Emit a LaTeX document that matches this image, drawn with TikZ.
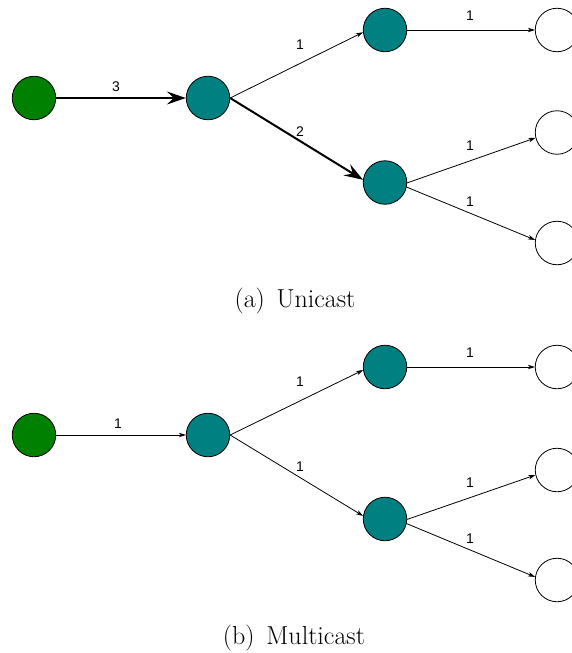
\documentclass[tikz,border=0pt]{standalone}
\usepackage{fontspec}
\newfontfamily\lblfont{Liberation Sans}
\usetikzlibrary{arrows.meta}
\definecolor{srcgreen}{RGB}{0,128,0}
\definecolor{midteal}{RGB}{0,128,128}
\begin{document}
\begin{tikzpicture}[x=1pt,y=-1pt,
  vtx/.style={circle,draw=black,line width=0.8pt,minimum size=43.5pt,inner sep=0pt},
  src/.style={vtx,fill=srcgreen},
  rel/.style={vtx,fill=midteal},
  dst/.style={vtx,fill=white},
  thinarr/.style={line width=0.8pt,-{Stealth[length=7pt,width=4.5pt,inset=2pt]}},
  thickarr/.style={line width=2pt,-{Stealth[length=19pt,width=13pt,inset=7pt]}},
  lbl/.style={font=\lblfont\fontsize{14}{16}\selectfont,inner sep=0pt},
  captext/.style={font=\fontsize{26}{30}\selectfont,inner sep=0pt}]
\useasboundingbox (0,0) rectangle (571,653);
% ---- (a) Unicast ----
\node[src] (a0) at (34,98) {};
\node[rel] (a1) at (208,98) {};
\node[rel] (a2) at (385,30) {};
\node[rel] (a3) at (385,182.5) {};
\node[dst] (a4) at (557,30) {};
\node[dst] (a5) at (557,132.5) {};
\node[dst] (a6) at (557,243) {};
\draw[thickarr] (a0.east) -- (a1.west);
\draw[thinarr] (a1.east) -- (a2.186);
\draw[thickarr] (a1.east) -- (a3.173);
\draw[thinarr] (a2.east) -- (a4.west);
\draw[thinarr] (a3.359) -- (a5.194);
\draw[thinarr] (a3.348) -- (a6.172);
\node[lbl] (la01) at (116,87) {3};
\node[lbl] (la12) at (300,45) {1};
\node[lbl] (la13) at (300,132) {2};
\node[lbl] (la24) at (470,16) {1};
\node[lbl] (la35) at (470,146) {1};
\node[lbl] (la36) at (470,202) {1};
\node[captext] (capa) at (295,301) {(a)\hspace{0.45em}Unicast};
% ---- (b) Multicast ----
\node[src] (b0) at (34,435) {};
\node[rel] (b1) at (208,435) {};
\node[rel] (b2) at (385,367) {};
\node[rel] (b3) at (385,519) {};
\node[dst] (b4) at (557,367) {};
\node[dst] (b5) at (557,470) {};
\node[dst] (b6) at (557,580) {};
\draw[thinarr] (b0.east) -- (b1.west);
\draw[thinarr] (b1.east) -- (b2.188);
\draw[thinarr] (b1.east) -- (b3.172);
\draw[thinarr] (b2.east) -- (b4.west);
\draw[thinarr] (b3.359) -- (b5.193);
\draw[thinarr] (b3.348) -- (b6.172);
\node[lbl] (lb01) at (118,424) {1};
\node[lbl] (lb12) at (300,382) {1};
\node[lbl] (lb13) at (300,467) {1};
\node[lbl] (lb24) at (470,353) {1};
\node[lbl] (lb35) at (470,483) {1};
\node[lbl] (lb36) at (470,539) {1};
\node[captext] (capb) at (294,638) {(b)\hspace{0.45em}Multicast};
\end{tikzpicture}
\end{document}
